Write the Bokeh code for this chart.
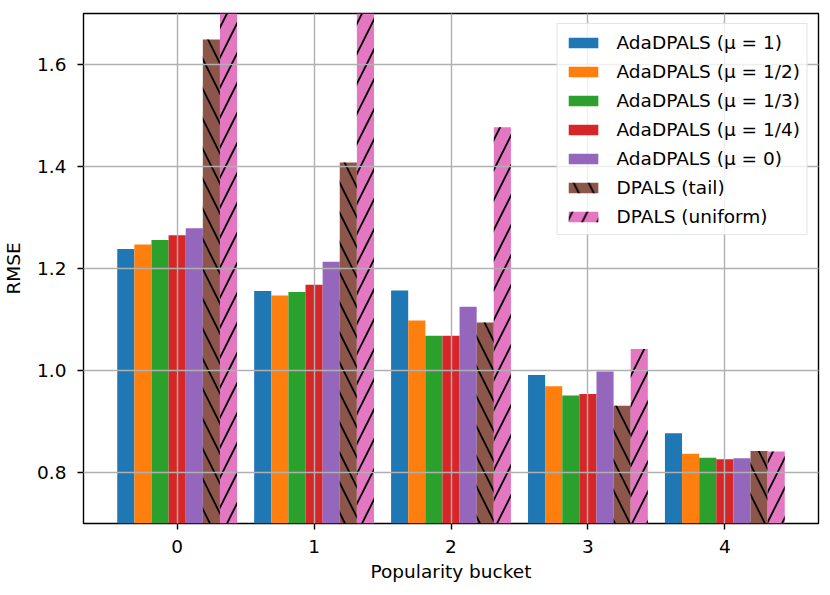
from bokeh.plotting import figure
from bokeh.models import ColumnDataSource, FixedTicker, Range1d, Legend, LegendItem, NumeralTickFormatter
from bokeh.transform import dodge
from bokeh.embed import file_html
from bokeh.resources import INLINE

buckets = [0, 1, 2, 3, 4]
series_names = [
    "AdaDPALS (μ = 1)",
    "AdaDPALS (μ = 1/2)",
    "AdaDPALS (μ = 1/3)",
    "AdaDPALS (μ = 1/4)",
    "AdaDPALS (μ = 0)",
    "DPALS (tail)",
    "DPALS (uniform)",
]
mu1 = [1.238, 1.156, 1.157, 0.991, 0.877]
mu_half = [1.247, 1.147, 1.098, 0.969, 0.837]
mu_third = [1.256, 1.154, 1.068, 0.951, 0.829]
mu_quarter = [1.265, 1.168, 1.068, 0.954, 0.826]
mu0 = [1.279, 1.213, 1.125, 0.998, 0.828]
dpals_tail = [1.649, 1.408, 1.094, 0.931, 0.842]
dpals_uniform = [1.95, 1.85, 1.477, 1.042, 0.841]  # first two exceed the axis top

yticks = [0.8, 1.0, 1.2, 1.4, 1.6]

colors = ["#1f77b4", "#ff7f0e", "#2ca02c", "#d62728", "#9467bd", "#8c564b", "#e377c2"]
hatches = [None, None, None, None, None, "left_diagonal_line", "right_diagonal_line"]
keys = ["mu1", "mu_half", "mu_third", "mu_quarter", "mu0", "tail", "uniform"]
all_vals = [mu1, mu_half, mu_third, mu_quarter, mu0, dpals_tail, dpals_uniform]

data = {"x": buckets}
for k, v in zip(keys, all_vals):
    data[k] = v
source = ColumnDataSource(data)

FONT = "DejaVu Sans"
FS = "18.5px"
bar_w = 0.125

p = figure(width=826, height=587, output_backend="svg", toolbar_location=None,
           x_range=Range1d(-0.684, 4.684), y_range=Range1d(0.7, 1.7),
           min_border_left=83, min_border_right=8, min_border_top=13, min_border_bottom=64)
p.background_fill_color = "white"
p.border_fill_color = "white"
p.outline_line_color = "black"
p.outline_line_width = 1.4

items = []
for i, (k, name, c, h) in enumerate(zip(keys, series_names, colors, hatches)):
    offset = (i - 3) * bar_w
    kw = {}
    if h:
        kw = dict(hatch_pattern=h, hatch_color="black", hatch_weight=1.8, hatch_scale=30)
    r = p.vbar(x=dodge("x", offset, range=p.x_range), top=k, bottom=0.0, width=bar_w,
               source=source, fill_color=c, line_color=None, **kw)
    items.append(LegendItem(label=name, renderers=[r]))

legend = Legend(items=items, location="top_right")
legend.label_text_font = FONT
legend.label_text_font_size = FS
legend.label_text_color = "black"
legend.glyph_width = 37
legend.glyph_height = 13
legend.label_height = 22
legend.label_standoff = 15
legend.spacing = 7
legend.padding = 7
legend.margin = 10
legend.border_line_color = "#cccccc"
legend.border_line_width = 1.4
legend.background_fill_color = "white"
legend.background_fill_alpha = 0.8
p.add_layout(legend)

p.xaxis.ticker = FixedTicker(ticks=buckets)
p.yaxis.ticker = FixedTicker(ticks=yticks)
p.yaxis.formatter = NumeralTickFormatter(format="0.0")

for ax in (p.xaxis, p.yaxis):
    ax.axis_line_color = None
    ax.major_tick_line_color = "black"
    ax.major_tick_line_width = 1.4
    ax.major_tick_out = 6
    ax.major_tick_in = 0
    ax.minor_tick_line_color = None
    ax.major_label_text_font = FONT
    ax.major_label_text_font_size = FS
    ax.major_label_text_color = "black"
    ax.axis_label_text_font = FONT
    ax.axis_label_text_font_size = FS
    ax.axis_label_text_font_style = "normal"
    ax.axis_label_text_color = "black"

p.xaxis.major_label_standoff = 10
p.yaxis.major_label_standoff = 11
p.xaxis.axis_label = "Popularity bucket"
p.yaxis.axis_label = "RMSE"
p.xaxis.axis_label_standoff = 5
p.yaxis.axis_label_standoff = 10

for g in (p.xgrid, p.ygrid):
    g.grid_line_color = "#b0b0b0"
    g.grid_line_width = 1.4
    g.level = "guide"
p.xgrid.ticker = FixedTicker(ticks=buckets)
p.ygrid.ticker = FixedTicker(ticks=yticks)

open("out.html", "w").write(file_html(p, INLINE))
